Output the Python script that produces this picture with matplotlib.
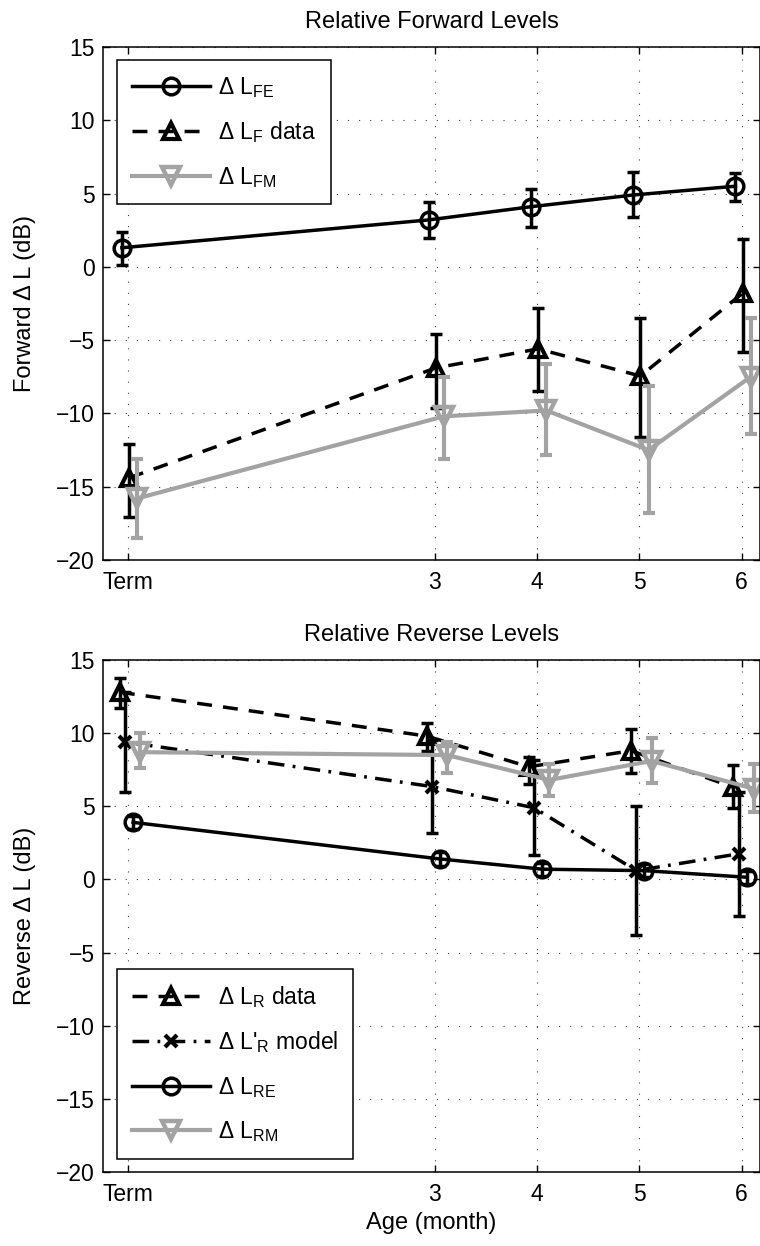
import numpy as np
import matplotlib
matplotlib.use('Agg')
import matplotlib.pyplot as plt

plt.rcParams['font.family'] = ['Liberation Sans', 'DejaVu Sans']
plt.rcParams['mathtext.fontset'] = 'custom'
plt.rcParams['mathtext.rm'] = 'Liberation Sans'
plt.rcParams['mathtext.it'] = 'Liberation Sans:italic'
plt.rcParams['font.size'] = 16.5

# eixo x: idade (Term = 0)
ages = np.array([0, 3, 4, 5, 6])
tick_labels = ['Term', '3', '4', '5', '6']

# painel de cima: niveis forward
fe_y = [1.3, 3.2, 4.1, 4.9, 5.5]
fe_lo = [0.1, 2.0, 2.7, 3.4, 4.5]
fe_hi = [2.4, 4.4, 5.3, 6.5, 6.4]

fdata_y = [-14.4, -6.9, -5.6, -7.45, -1.8]
fdata_lo = [-17.1, -9.6, -8.5, -11.6, -5.8]
fdata_hi = [-12.1, -4.6, -2.8, -3.5, 1.9]

fm_y = [-15.8, -10.2, -9.8, -12.5, -7.5]
fm_lo = [-18.5, -13.1, -12.85, -16.8, -11.4]
fm_hi = [-13.1, -7.5, -6.6, -8.1, -3.5]

# painel de baixo: niveis reverse
rdata_y = [12.8, 9.8, 7.7, 8.8, 6.3]
rdata_lo = [11.75, 8.8, 6.5, 7.25, 4.85]
rdata_hi = [13.8, 10.7, 8.4, 10.3, 7.85]

model_y = [9.4, 6.35, 4.9, 0.6, 1.75]
model_lo = [6.0, 3.2, 1.65, -3.8, -2.5]
model_hi = [12.8, 9.5, 8.15, 5.0, 6.0]

re_y = [3.9, 1.4, 0.7, 0.6, 0.15]
re_lo = [3.45, 0.95, 0.25, 0.15, -0.3]
re_hi = [4.35, 1.85, 1.15, 1.05, 0.6]

rm_y = [8.7, 8.5, 6.8, 8.1, 6.2]
rm_lo = [7.6, 7.25, 5.7, 6.6, 4.6]
rm_hi = [10.0, 9.4, 7.9, 9.7, 7.9]

GRAY = '0.64'
LW = 2.5
dashed = (0, (4.3, 3.2))
dashdot = (0, (4.8, 2.4, 0.8, 2.4))


def serie(ax, dx, y, lo, hi, color, ls, marker, ms, label, lw=LW, mew=2.5):
    x = ages + dx
    y = np.array(y)
    err = [y - np.array(lo), np.array(hi) - y]
    ax.errorbar(x, y, yerr=err, fmt='none', ecolor=color, elinewidth=lw,
                capsize=4, capthick=lw)
    line, = ax.plot(x, y, color=color, linestyle=ls, linewidth=lw,
                    marker=marker, markersize=ms, markerfacecolor='none',
                    markeredgecolor=color, markeredgewidth=mew, label=label)
    return line


def arruma_eixo(ax, ylabel):
    ax.set_xlim(-0.245, 6.18)
    ax.set_ylim(-20, 15)
    ax.set_xticks(ages)
    ax.set_xticklabels(tick_labels)
    ax.set_yticks(np.arange(-20, 16, 5))
    ax.set_yticklabels(['\u221220', '\u221215', '\u221210', '\u22125', '0', '5', '10', '15'])
    ax.tick_params(direction='in', length=5, width=1, top=True, right=True)
    ax.tick_params(axis='x', pad=8)
    ax.tick_params(axis='y', pad=6)
    ax.grid(True, color='0.25', linestyle=(0, (1, 9)), linewidth=0.8)
    for s in ax.spines.values():
        s.set_linewidth(1.1)
    ax.set_ylabel(ylabel, fontsize=17, labelpad=14)


def legenda(ax, handles, loc, anchor):
    leg = ax.legend(handles=handles, loc=loc, bbox_to_anchor=anchor,
                    borderaxespad=0, numpoints=1, handlelength=3.4, handletextpad=0.35,
                    labelspacing=0.85, borderpad=0.65, fancybox=False, framealpha=1,
                    edgecolor='black', fontsize=16.5)
    leg.get_frame().set_linewidth(1.1)
    return leg


fig = plt.figure(figsize=(7.6, 12.46), dpi=100)
ax1 = fig.add_axes([0.1355, 0.5506, 0.8645, 0.4117])
ax2 = fig.add_axes([0.1355, 0.0594, 0.8645, 0.4109])

# Painel 1
h1 = serie(ax1, -0.06, fe_y, fe_lo, fe_hi, 'black', '-', 'o', 12, 'Δ L$_{\\rm FE}$')
h2 = serie(ax1, 0.01, fdata_y, fdata_lo, fdata_hi, 'black', dashed, '^', 11, 'Δ L$_{\\rm F}$ data', mew=3)
h3 = serie(ax1, 0.09, fm_y, fm_lo, fm_hi, GRAY, '-', 'v', 13, 'Δ L$_{\\rm FM}$', lw=3, mew=3.2)
arruma_eixo(ax1, 'Forward Δ L (dB)')
ax1.set_title('Relative Forward Levels', fontsize=17, pad=14)
legenda(ax1, [h1, h2, h3], 'upper left', (0.0213, 0.9747))

# Painel 2
g1 = serie(ax2, -0.08, rdata_y, rdata_lo, rdata_hi, 'black', dashed, '^', 11, 'Δ L$_{\\rm R}$ data', mew=3)
g2 = serie(ax2, -0.03, model_y, model_lo, model_hi, 'black', dashdot, 'x', 9, "Δ L$'_{\\rm R}$ model", mew=3)
g3 = serie(ax2, 0.05, re_y, re_lo, re_hi, 'black', '-', 'o', 12, 'Δ L$_{\\rm RE}$')
g4 = serie(ax2, 0.12, rm_y, rm_lo, rm_hi, GRAY, '-', 'v', 13, 'Δ L$_{\\rm RM}$', lw=3, mew=3.2)
arruma_eixo(ax2, 'Reverse Δ L (dB)')
ax2.set_title('Relative Reverse Levels', fontsize=17, pad=14)
ax2.set_xlabel('Age (month)', fontsize=17, labelpad=4)
legenda(ax2, [g1, g2, g3, g4], 'lower left', (0.0213, 0.0253))

plt.savefig('out.png', dpi=100)
